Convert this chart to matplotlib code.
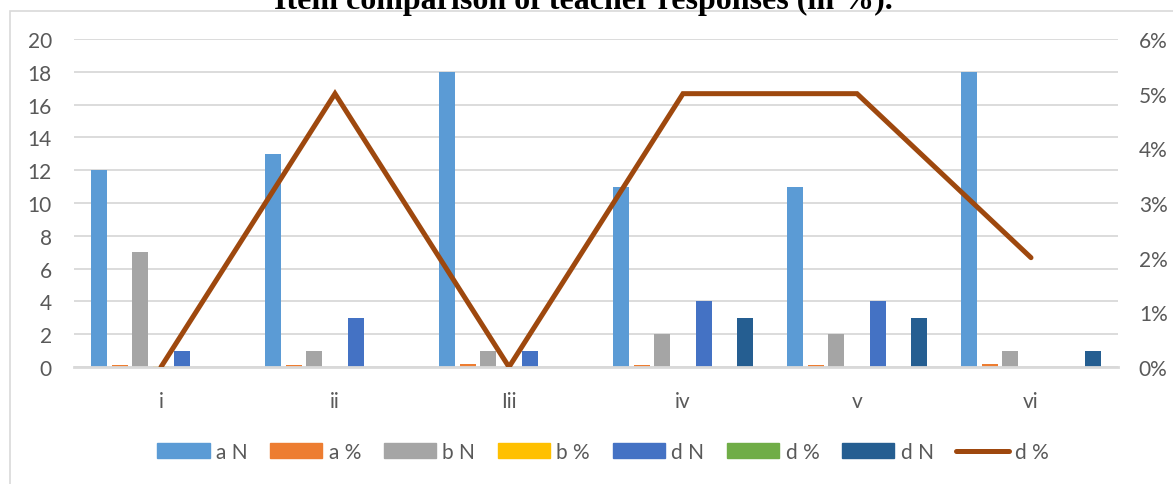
import matplotlib
matplotlib.use("Agg")
import matplotlib.pyplot as plt
import numpy as np
from matplotlib.patches import Rectangle
from matplotlib.lines import Line2D
from matplotlib.ticker import FuncFormatter, MultipleLocator

# Items and series values
items = ["i", "ii", "Iii", "iv", "v", "vi"]
a_n = [12, 13, 18, 11, 11, 18]
a_pct = [0.12, 0.13, 0.18, 0.11, 0.11, 0.18]
b_n = [7, 1, 1, 2, 2, 1]
b_pct = [0.07, 0.01, 0.01, 0.02, 0.02, 0.01]
d_n = [1, 3, 1, 4, 4, 0]
d_pct_bar = [0, 0, 0, 0, 0, 0]
d_n2 = [0, 0, 0, 3, 3, 1]
d_pct_line = [0.00, 0.05, 0.00, 0.05, 0.05, 0.02]

bar_series = [
    ("a N", a_n, "#5B9BD5"),
    ("a %", a_pct, "#ED7D31"),
    ("b N", b_n, "#A5A5A5"),
    ("b %", b_pct, "#FFC000"),
    ("d N", d_n, "#4472C4"),
    ("d %", d_pct_bar, "#70AD47"),
    ("d N", d_n2, "#255E91"),
]
line_label = "d %"
line_color = "#9E480E"

W, H = 1173, 485
fig = plt.figure(figsize=(W / 100, H / 100), dpi=100)
fig.patch.set_facecolor("white")

FONT = "Lato"
TXT = "#595959"
GRID = "#D9D9D9"
FS = 15

# chart frame (runs past the right and bottom edges)
fig.patches.append(Rectangle((10 / W, -0.05), 1.2, 1 - 12 / H + 0.05,
                             transform=fig.transFigure, fill=False,
                             edgecolor=GRID, linewidth=1.2, zorder=0))

# title, partly cut by the top edge
fig.text(583 / W, 1 - 9 / H, "Item comparison of teacher responses (in %).",
         ha="center", va="baseline", fontsize=23, fontweight="bold",
         family="Liberation Serif", color="black")

left, right = 74 / W, 1118 / W
bottom, top = 1 - 368 / H, 1 - 40 / H
ax = fig.add_axes([left, bottom, right - left, top - bottom])
ax2 = ax.twinx()

x = np.arange(len(items))
step = 0.118
width = 0.092
for k, (name, vals, col) in enumerate(bar_series):
    ax.bar(x + (k - 3) * step, vals, width=width, color=col, zorder=3,
           label=name)

ax2.plot(x, d_pct_line, color=line_color, linewidth=3.6,
         solid_capstyle="round", solid_joinstyle="miter", zorder=4)

ax.set_xlim(-0.5, len(items) - 0.5)
ax.set_ylim(0, 20)
ax.yaxis.set_major_locator(MultipleLocator(2))
ax2.set_ylim(0, 0.06)
ax2.yaxis.set_major_locator(MultipleLocator(0.01))
ax2.yaxis.set_major_formatter(FuncFormatter(lambda v, p: f"{v * 100:.0f}%"))

ax.set_xticks(x)
ax.set_xticklabels(items)
ax.grid(axis="y", color=GRID, linewidth=1.3, zorder=0)
ax.set_axisbelow(True)

for a in (ax, ax2):
    for s in a.spines.values():
        s.set_visible(False)
    a.tick_params(length=0, labelsize=FS, labelcolor=TXT)
    for lab in a.get_xticklabels() + a.get_yticklabels():
        lab.set_family(FONT)
ax.spines["bottom"].set_visible(True)
ax.spines["bottom"].set_color(GRID)
ax.spines["bottom"].set_linewidth(2)
ax.spines["bottom"].set_zorder(5)
ax.tick_params(axis="x", pad=17)
ax.tick_params(axis="y", pad=16)
ax2.tick_params(axis="y", pad=15)

handles = [Rectangle((0, 0), 1, 1, color=c) for _, _, c in bar_series]
handles.append(Line2D([0], [0], color=line_color, linewidth=3.6,
                      solid_capstyle="round"))
labels = [n for n, _, _ in bar_series] + [line_label]
leg = fig.legend(handles, labels, loc="center", ncol=8,
                 bbox_to_anchor=(603 / W, 1 - 453 / H), frameon=False,
                 prop={"family": FONT, "size": FS},
                 handlelength=2.5, handleheight=0.7, handletextpad=0.3,
                 columnspacing=1.1)
for t in leg.get_texts():
    t.set_color(TXT)

fig.savefig("out.png", dpi=100, facecolor="white")
